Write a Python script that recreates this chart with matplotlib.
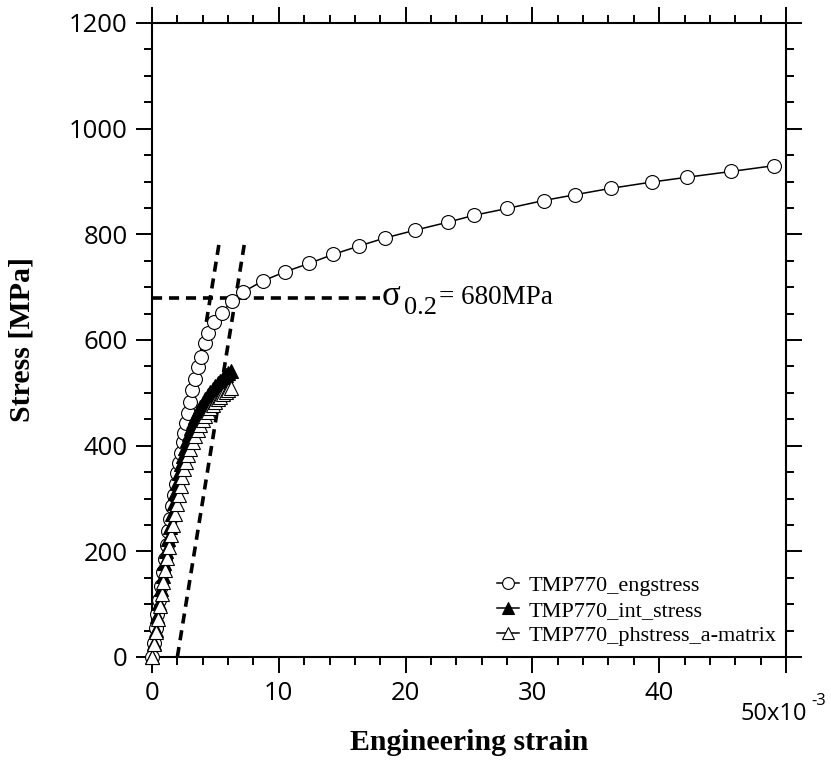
import matplotlib
matplotlib.use("Agg")
import matplotlib.pyplot as plt
from matplotlib.ticker import MultipleLocator, FixedLocator
import matplotlib.transforms as mtransforms

# ---------------- data ----------------
eng_strain = [0, 0.14, 0.29, 0.43, 0.58, 0.72, 0.86, 1.0, 1.15, 1.3, 1.44, 1.58, 1.72, 1.86,
              2.0, 2.14, 2.28, 2.42, 2.55, 2.68, 2.82, 3.0, 3.18, 3.39, 3.65, 3.86, 4.18, 4.44,
              4.91, 5.5, 6.33, 7.19, 8.76, 10.49, 12.39, 14.29, 16.34, 18.36, 20.78, 23.34,
              25.39, 28.02, 30.89, 33.37, 36.17, 39.43, 42.18, 45.68, 49.06]
eng_stress = [0, 27, 54, 81, 108, 134, 160, 186, 212, 238, 262, 285, 307, 328,
              348, 368, 387, 406, 424, 442, 461, 483, 505, 527, 549, 568, 594, 613,
              635, 652, 674, 691, 712, 729, 745, 762, 778, 793, 808, 823,
              836, 849, 864, 875, 887, 899, 908, 919, 930]

int_strain = [0, 0.14, 0.28, 0.42, 0.56, 0.70, 0.84, 0.98, 1.12, 1.26, 1.40, 1.55, 1.70, 1.85,
              2.0, 2.15, 2.3, 2.45, 2.6, 2.75, 2.9, 3.05, 3.2, 3.4, 3.6, 3.8, 4.0, 4.2, 4.4,
              4.6, 4.8, 5.0, 5.2, 5.4, 5.6, 5.8, 6.0, 6.2]
int_stress = [0, 26, 52, 78, 103, 128, 153, 177, 201, 224, 247, 270, 291, 311,
              330, 348, 365, 381, 396, 410, 423, 434, 444, 455, 465, 473, 481, 488, 495,
              501, 507, 513, 518, 523, 528, 533, 538, 542]

ph_strain = [0, 0.15, 0.3, 0.45, 0.6, 0.75, 0.9, 1.05, 1.2, 1.35, 1.5, 1.65, 1.8, 1.95,
             2.1, 2.25, 2.4, 2.55, 2.7, 2.85, 3.0, 3.2, 3.4, 3.6, 3.8, 4.0, 4.2, 4.4, 4.6,
             4.8, 5.0, 5.2, 5.4, 5.6, 5.8, 6.0, 6.2]
ph_stress = [0, 24, 48, 72, 96, 119, 142, 165, 187, 209, 230, 250, 270, 289,
             307, 324, 340, 355, 369, 382, 394, 407, 419, 430, 440, 449, 457, 464, 471,
             477, 483, 488, 493, 497, 501, 505, 509]

series_labels = ["TMP770_engstress", "TMP770_int_stress", "TMP770_phstress_a-matrix"]

# construction lines (strain in 1e-3, stress in MPa)
elastic_line_x = [0, 5.34]
elastic_line_y = [0, 790]
offset_line_x = [2.0, 7.34]
offset_line_y = [0, 790]
yield_line_x = [0, 18.0]
yield_line_y = [680, 680]
yield_text = "680MPa"

xticks_major = [0, 10, 20, 30, 40, 50]
xtick_labels = ["0", "10", "20", "30", "40", ""]
yticks_major = [0, 200, 400, 600, 800, 1000, 1200]

# ---------------- figure ----------------
fig = plt.figure(figsize=(8.31, 7.64), dpi=100)
ax = fig.add_axes([152/831, 1-657/764, (786-152)/831, (657-23)/764])

dash = dict(color="black", lw=2.6, dashes=(2.8, 1.9), zorder=1)
ax.plot(elastic_line_x, elastic_line_y, **dash)
ax.plot(offset_line_x, offset_line_y, **dash)
ax.plot(yield_line_x, yield_line_y, **dash)

ax.plot(eng_strain, eng_stress, "-", color="black", lw=1.1, marker="o", ms=10,
        mfc="white", mec="black", mew=0.8, label=series_labels[0], zorder=3, clip_on=False)
ax.plot(int_strain, int_stress, "-", color="black", lw=1.1, marker="^", ms=10.5,
        mfc="black", mec="black", mew=0.8, label=series_labels[1], zorder=4, clip_on=False)
ax.plot(ph_strain, ph_stress, "-", color="black", lw=1.1, marker="^", ms=10.5,
        mfc="white", mec="black", mew=0.8, label=series_labels[2], zorder=5, clip_on=False)

ax.set_xlim(0, 50)
ax.set_ylim(0, 1200)

ax.xaxis.set_major_locator(FixedLocator(xticks_major))
ax.set_xticklabels(xtick_labels)
ax.xaxis.set_minor_locator(MultipleLocator(2))
ax.yaxis.set_major_locator(FixedLocator(yticks_major))
ax.yaxis.set_minor_locator(MultipleLocator(50))

for s in ax.spines.values():
    s.set_linewidth(1.5)
ax.tick_params(which="both", direction="out", top=True, right=True, width=1.4)
ax.tick_params(which="major", length=11.5)
ax.tick_params(which="minor", length=5.8)
ax.tick_params(axis="both", labelsize=18.5, pad=6)
for lab in ax.get_xticklabels() + ax.get_yticklabels():
    lab.set_fontfamily("Open Sans")

# 50x10^-3 label
tr = mtransforms.blended_transform_factory(ax.transData, ax.transAxes)
ax.text(49.0, (657-714)/634, "50x10", transform=tr, ha="center", va="center",
        fontsize=17, fontfamily="Open Sans")
ax.text(52.0, (657-701)/634, "-3", transform=tr, ha="left", va="center",
        fontsize=12, fontfamily="Open Sans")

# sigma annotation
serif = "Liberation Serif"
ax.text(18.1, 682, "σ", ha="left", va="center", fontsize=25, fontfamily=serif)
ax.text(19.9, 660, "0.2", ha="left", va="center", fontsize=19, fontfamily=serif)
ax.text(22.6, 680, "= " + yield_text, ha="left", va="center", fontsize=19.5, fontfamily=serif)

# axis labels
fig.text(22/831, 1-340/764, "Stress [MPa]", rotation=90, ha="center", va="center",
         fontsize=21.5, fontweight="bold", fontfamily=serif)
fig.text(469/831, 1-743/764, "Engineering strain", ha="center", va="center",
         fontsize=21.5, fontweight="bold", fontfamily=serif)

leg = ax.legend(loc="lower left", bbox_to_anchor=((497-152)/634, (657-646)/634), frameon=False,
                prop={"family": serif, "size": 16}, handlelength=1.0, handletextpad=0.4,
                labelspacing=0.2, markerscale=0.85, borderaxespad=0.0, borderpad=0.0)

fig.savefig("out.png", dpi=100)
